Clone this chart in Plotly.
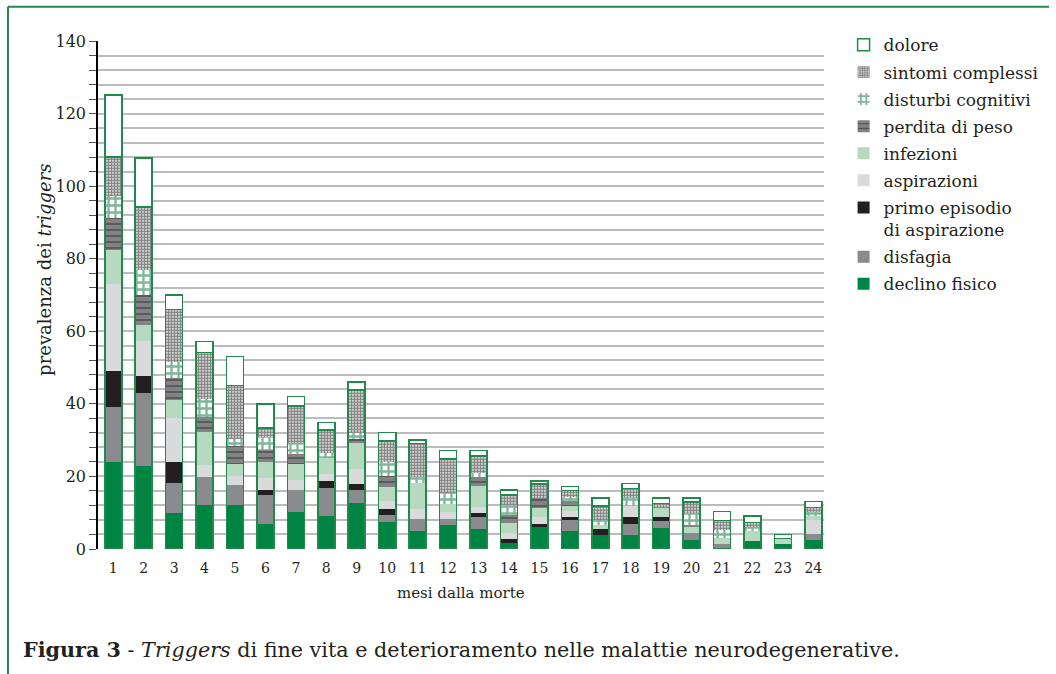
import numpy as np
import plotly.graph_objects as go

months = list(range(1, 25))
month_labels = [str(m) for m in months]

declino_fisico = [24, 23, 10, 12, 12, 7, 10.3, 9.1, 12.8, 7.5, 5, 6.6, 5.4, 1.6, 6, 5, 3.9, 3.9, 5.7, 2.5, 0.3, 2.2, 1.4, 2.5]
disfagia = [15, 20, 8.3, 7.9, 5.7, 8, 6, 7.8, 3.5, 1.9, 3.2, 1.8, 3.3, 0, 0, 3, 0, 3, 2, 2, 1.1, 0, 0, 1.6]
primo_episodio = [10, 4.6, 5.8, 0, 0, 1.2, 0, 1.8, 1.6, 1.6, 0, 0, 1.3, 1.2, 0.9, 0.9, 1.5, 2, 1, 0, 0, 0, 0, 0]
aspirazioni = [24, 9.6, 12.1, 3.3, 2.3, 3.4, 2.7, 2, 4.1, 2.2, 2.9, 1.9, 1.5, 1.5, 1.8, 1.6, 0, 3, 0, 0, 0, 0, 0, 4]
infezioni = [9.4, 4.6, 5, 9, 3.5, 4.4, 4.3, 4.3, 7.1, 4, 7.2, 2, 5.9, 2.8, 2.5, 1.3, 1.2, 0, 2.5, 1.5, 1.5, 2.8, 1.5, 1.1]
perdita_peso = [8.7, 8.3, 5.8, 4.2, 4.8, 3.2, 2.9, 0, 1.3, 2.9, 0, 0, 2.4, 2.3, 2.8, 1.4, 0, 0, 0, 0.6, 0, 0, 0, 0]
disturbi_cognitivi = [6.2, 6.9, 4.4, 5, 2, 3.6, 2.9, 1.5, 1.5, 4, 1.5, 3, 1.1, 2.7, 0, 1.2, 1.4, 2.1, 0, 3.2, 2.3, 1, 0, 1]
sintomi_complessi = [10.8, 17.2, 14.6, 12.8, 14.8, 2.5, 10.3, 6.3, 11.9, 5.7, 9.3, 9.5, 4.7, 2.8, 3.9, 1.7, 3.8, 2.7, 1.4, 3.1, 2.6, 1.3, 0, 1.2]
dolore = [17, 13.5, 4, 3, 8, 6.6, 2.6, 2.1, 2.3, 2.3, 0.9, 2.3, 1.5, 1.4, 0.9, 1.1, 2.3, 1.4, 1.4, 1.2, 2.5, 1.8, 1.1, 1.7]

GREEN = "#008444"
OUTLINE = "#1f8a4c"
FONT = "DejaVu Serif"
TXT = "#231f20"
BW = 0.56

series = [
    ("declino fisico", declino_fisico, dict(color=GREEN)),
    ("disfagia", disfagia, dict(color="#8a8b8e")),
    ("primo episodio<br>di aspirazione", primo_episodio, dict(color="#231f20")),
    ("aspirazioni", aspirazioni, dict(color="#d9dadb")),
    ("infezioni", infezioni, dict(color="#b6d9bf")),
    ("perdita di peso", perdita_peso,
     dict(color="#838386", pattern=dict(shape="-", fgcolor="#2a2a2a", bgcolor="#838386",
                                         size=6, solidity=0.3, fillmode="overlay"))),
    ("disturbi cognitivi", disturbi_cognitivi,
     dict(color="white", pattern=dict(shape="+", fgcolor="#006b35", bgcolor="white",
                                       size=7, solidity=0.55, fillmode="overlay"))),
    ("sintomi complessi", sintomi_complessi,
     dict(color="white", pattern=dict(shape=".", fgcolor="#000000", bgcolor="white",
                                       size=3, solidity=0.7, fillmode="overlay"))),
    ("dolore", dolore, dict(color="white", line=dict(color=OUTLINE, width=1.5))),
]

fig = go.Figure()
for i, (name, vals, mk) in enumerate(series):
    m = dict(mk)
    if "line" not in m:
        m["line"] = dict(width=0)
    fig.add_trace(go.Bar(x=months, y=vals, name=name, marker=m, width=BW,
                         legendgroup="g%d" % i, legendrank=100 - i))

totals = np.sum([s[1] for s in series], axis=0)
fig.add_trace(go.Bar(x=months, y=totals, xaxis="x2", width=BW, showlegend=False,
                     marker=dict(color="rgba(0,0,0,0)", line=dict(color=OUTLINE, width=1.6)),
                     hoverinfo="skip"))

xr = [0.5, 24.35]
fig.update_layout(
    width=1056, height=674,
    barmode="stack",
    plot_bgcolor="white", paper_bgcolor="white",
    margin=dict(l=98, r=224, t=41, b=125),
    font=dict(family=FONT, color=TXT),
    xaxis=dict(range=xr, tickvals=months, ticktext=month_labels, showgrid=False,
               showline=False, zeroline=False, ticks="", tickfont=dict(size=14),
               ticklabelstandoff=9),
    xaxis2=dict(range=xr, overlaying="x", visible=False),
    yaxis=dict(range=[0, 140], dtick=20, showgrid=True, gridcolor="#bcbcbc", gridwidth=1.5,
               showline=True, linecolor="black", linewidth=1.5, zeroline=False,
               ticks="outside", ticklen=7, tickcolor="#555", tickwidth=1,
               tickfont=dict(size=16),
               minor=dict(dtick=4, showgrid=True, gridcolor="#bcbcbc", gridwidth=1.5,
                          ticks="outside", ticklen=7, tickcolor="#555", tickwidth=1)),
    legend=dict(x=1.027, y=1.027, xanchor="left", yanchor="top", traceorder="grouped",
                font=dict(size=17, family=FONT, color=TXT), tracegroupgap=2,
                valign="top", bgcolor="rgba(0,0,0,0)"),
    showlegend=True,
)

fig.add_annotation(text="prevalenza dei <i>triggers</i>", xref="paper", yref="paper",
                   x=-0.074, y=0.55, xanchor="center", yanchor="middle", textangle=-90,
                   showarrow=False, font=dict(size=18, family=FONT, color=TXT))
fig.add_annotation(text="mesi dalla morte", xref="paper", yref="paper",
                   x=0.5, y=-0.087, xanchor="center", yanchor="middle", showarrow=False,
                   font=dict(size=15, family=FONT, color=TXT))
fig.add_annotation(text="<b>Figura 3</b> - <i>Triggers</i> di fine vita e deterioramento nelle malattie neurodegenerative.",
                   xref="paper", yref="paper", x=-0.106, y=-0.199, xanchor="left", yanchor="middle",
                   showarrow=False, font=dict(size=20.7, family=FONT, color=TXT))

# green frame
fig.add_shape(type="line", xref="paper", yref="paper", x0=-0.124, x1=1.31, y0=1.0675, y1=1.0675,
              line=dict(color=OUTLINE, width=2))
fig.add_shape(type="line", xref="paper", yref="paper", x0=-0.124, x1=-0.124, y0=1.0675, y1=-0.26,
              line=dict(color=OUTLINE, width=2))

fig.write_html("out.html", config={"displayModeBar": False},
               post_script="document.body.style.margin='0px';")
